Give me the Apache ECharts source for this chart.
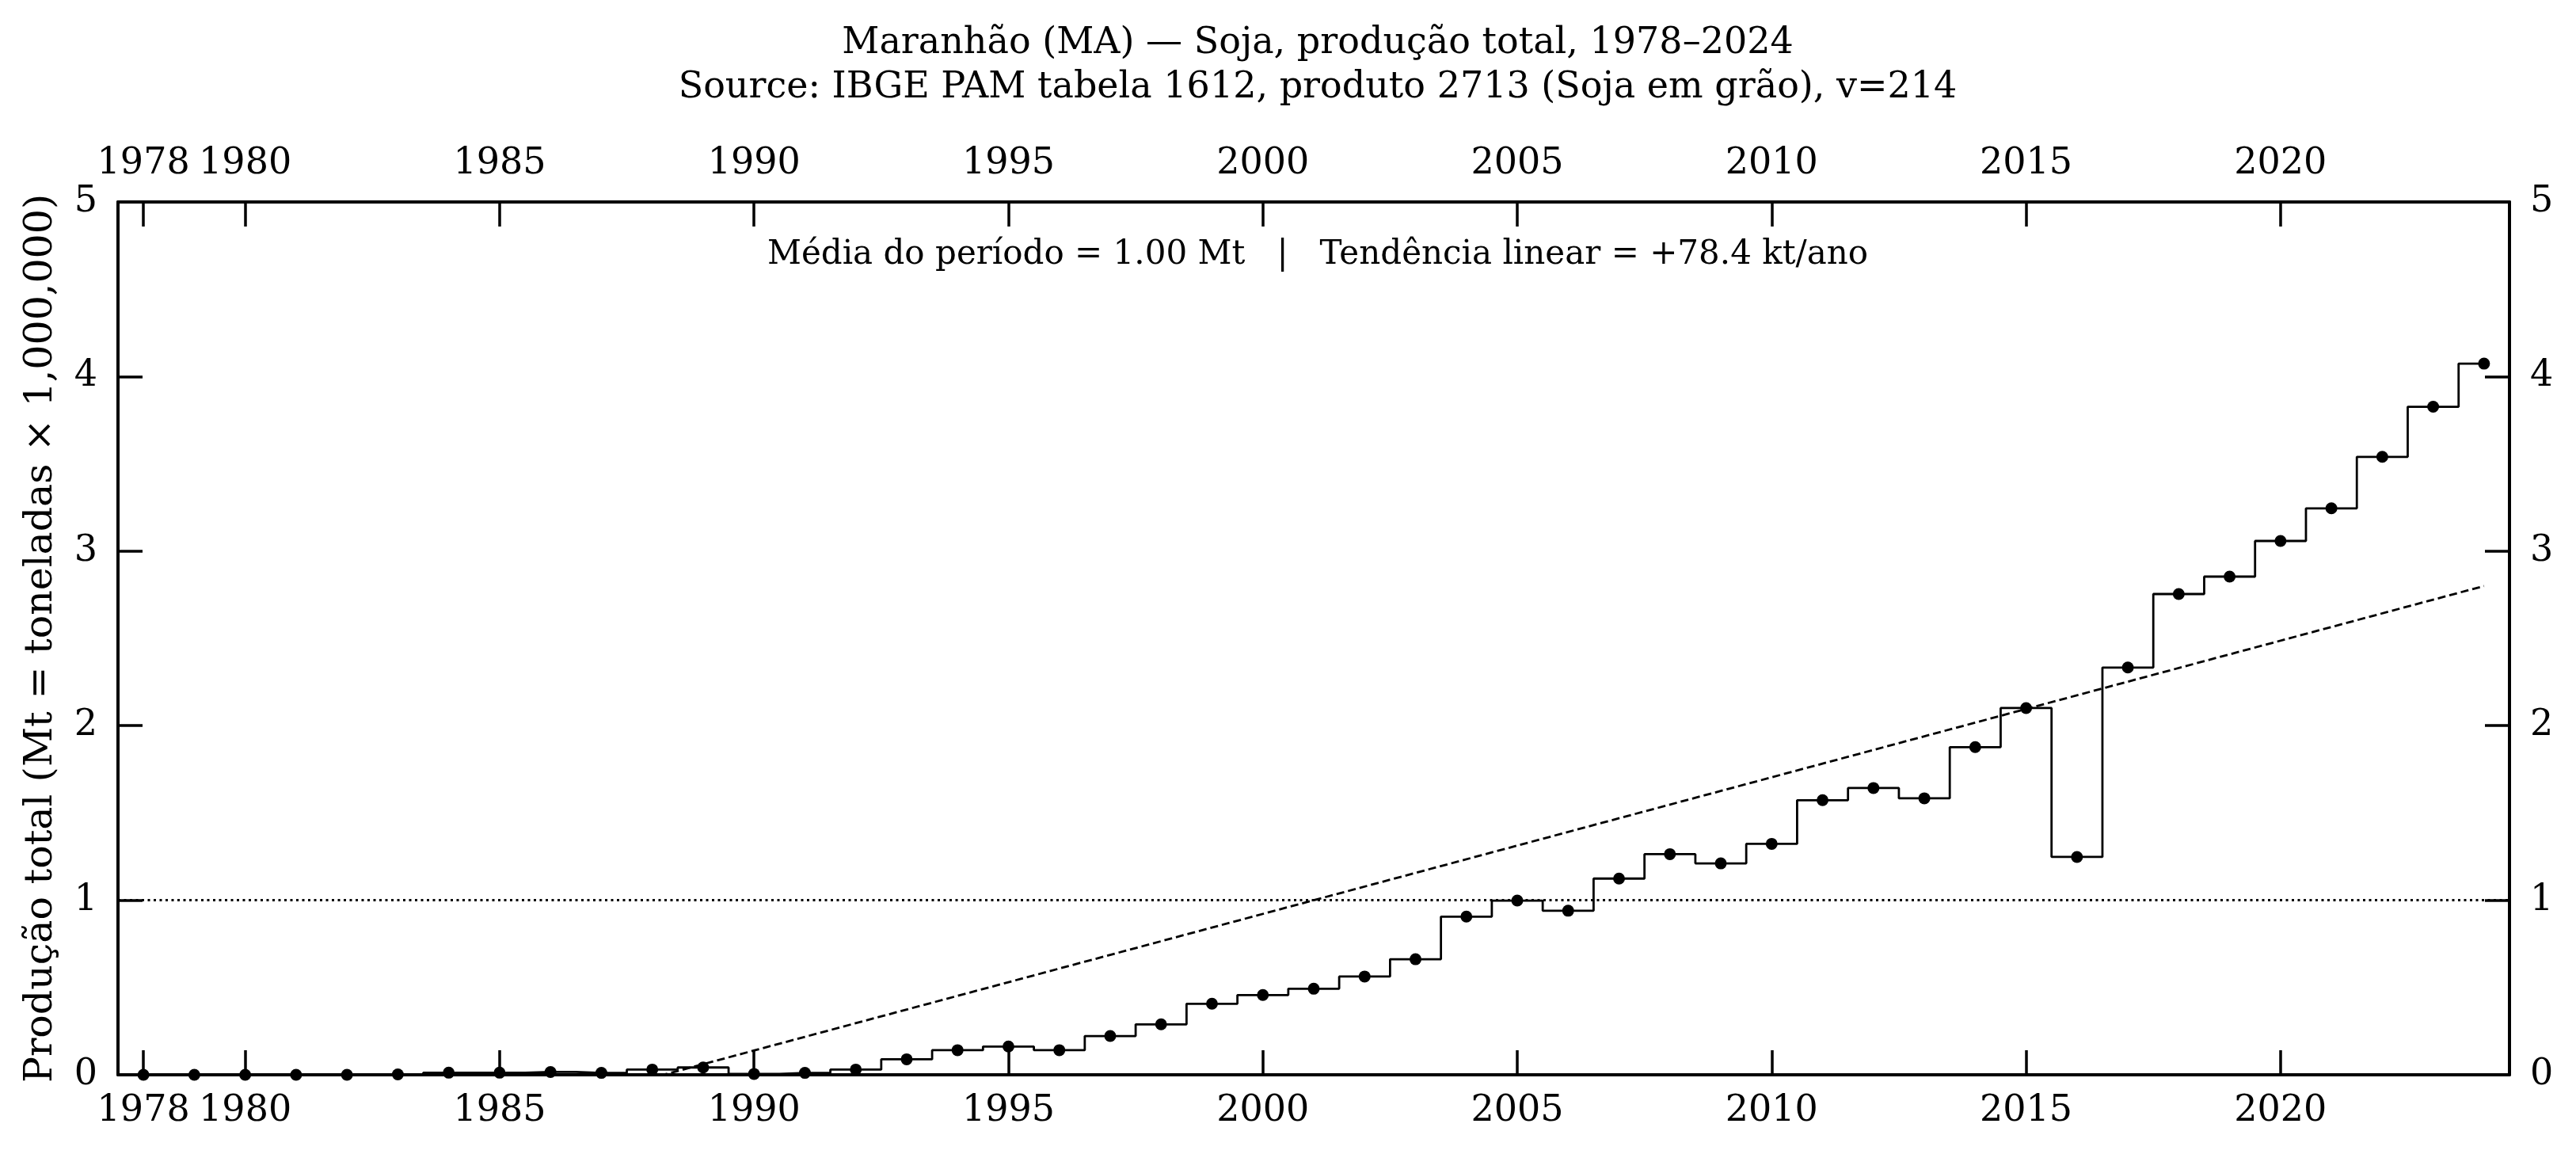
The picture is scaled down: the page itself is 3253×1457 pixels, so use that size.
<!DOCTYPE html>
<html>
<head>
<meta charset="utf-8">
<script src="https://cdn.jsdelivr.net/npm/echarts@6/dist/echarts.min.js"></script>
<style>
  html, body { margin: 0; padding: 0; background: #fff; }
  #chart { width: 3253px; height: 1457px; }
</style>
</head>
<body>
<div id="chart"></div>
<script>
// anos (categorias)
const anos = ['1978','1979','1980','1981','1982','1983','1984','1985','1986','1987',
  '1988','1989','1990','1991','1992','1993','1994','1995','1996','1997',
  '1998','1999','2000','2001','2002','2003','2004','2005','2006','2007',
  '2008','2009','2010','2011','2012','2013','2014','2015','2016','2017',
  '2018','2019','2020','2021','2022','2023','2024'];

// produção total em Mt
const producao = [0, 0, 0, 0, 0, 0.002, 0.012, 0.012, 0.016, 0.011,
  0.030, 0.042, 0.005, 0.011, 0.030, 0.089, 0.141, 0.162, 0.141, 0.222,
  0.289, 0.407, 0.457, 0.493, 0.563, 0.662, 0.906, 0.998, 0.940, 1.124,
  1.264, 1.211, 1.323, 1.573, 1.643, 1.584, 1.877, 2.101, 1.248, 2.333,
  2.754, 2.854, 3.058, 3.245, 3.540, 3.827, 4.074];

// tendência linear (extremos) e média do período
const tendencia = [['1978', -0.80], ['2024', 2.80]];
const media = 1.00;

// anos com marca no eixo
const anosMarcados = ['1978','1980','1985','1990','1995','2000','2005','2010','2015','2020'];

const fonte = 'DejaVu Serif';
const preto = '#000';

function eixoX(pos) {
  return {
    type: 'category',
    position: pos,
    data: anos,
    boundaryGap: true,
    axisLine: { show: true, onZero: false, lineStyle: { color: preto, width: 4 } },
    axisTick: {
      show: true, inside: true, length: 31, alignWithLabel: true,
      interval: (i, v) => anosMarcados.indexOf(v) >= 0,
      lineStyle: { color: preto, width: 3.5 }
    },
    axisLabel: {
      interval: (i, v) => anosMarcados.indexOf(v) >= 0,
      color: preto, fontFamily: fonte, fontSize: 46,
      margin: pos === 'top' ? 25 : 23
    },
    splitLine: { show: false }
  };
}

function eixoY(pos) {
  const e = {
    type: 'value',
    position: pos,
    min: 0, max: 5, interval: 1,
    axisLine: { show: true, lineStyle: { color: preto, width: 4 } },
    axisTick: { show: true, inside: true, length: 31, lineStyle: { color: preto, width: 3.5 } },
    axisLabel: { color: preto, fontFamily: fonte, fontSize: 46, margin: 26 },
    splitLine: { show: false }
  };
  if (pos === 'left') {
    e.name = 'Produção total (Mt = toneladas × 1,000,000)';
    e.nameLocation = 'middle';
    e.nameGap = 72;
    e.nameTextStyle = { color: preto, fontFamily: fonte, fontSize: 49 };
  }
  return e;
}

var myChart = echarts.init(document.getElementById('chart'));
var option = {
  backgroundColor: '#fff',
  animation: false,
  title: [
    {
      text: 'Maranhão (MA) — Soja, produção total, 1978–2024',
      left: 1659, top: 27, textAlign: 'center',
      textStyle: { color: preto, fontFamily: fonte, fontSize: 46, fontWeight: 'normal' }
    },
    {
      text: 'Source: IBGE PAM tabela 1612, produto 2713 (Soja em grão), v=214',
      left: 1659, top: 83, textAlign: 'center',
      textStyle: { color: preto, fontFamily: fonte, fontSize: 46, fontWeight: 'normal' }
    },
    {
      text: 'Média do período = 1.00 Mt   |   Tendência linear = +78.4 kt/ano',
      left: 1659, top: 296, textAlign: 'center',
      textStyle: { color: preto, fontFamily: fonte, fontSize: 42, fontWeight: 'normal' }
    }
  ],
  grid: { left: 149, right: 84, top: 255, bottom: 100, containLabel: false },
  xAxis: [eixoX('bottom'), eixoX('top')],
  yAxis: [eixoY('left'), eixoY('right')],
  series: [
    {
      name: 'tendencia',
      type: 'line',
      data: tendencia,
      symbol: 'none',
      clip: true,
      lineStyle: { color: preto, width: 2.8, type: [10, 5] },
      z: 2,
      markLine: {
        silent: true,
        symbol: ['none', 'none'],
        label: { show: false },
        lineStyle: { color: preto, width: 2.8, type: [3, 4.5] },
        data: [{ yAxis: media }]
      }
    },
    {
      name: 'producao',
      type: 'line',
      step: 'middle',
      data: producao,
      symbol: 'circle',
      symbolSize: 15,
      showAllSymbol: true,
      itemStyle: { color: preto },
      lineStyle: { color: preto, width: 2.8 },
      z: 3
    }
  ]
};
if (option && typeof option === 'object') {
  myChart.setOption(option);
}
</script>
</body>
</html>
